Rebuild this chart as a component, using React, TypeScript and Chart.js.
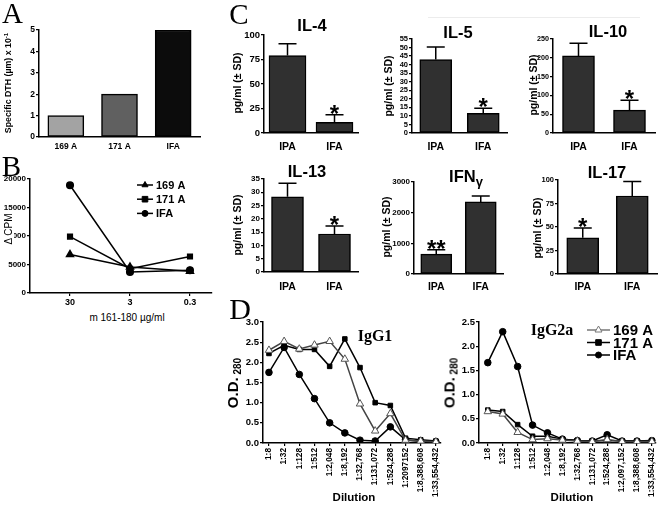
import React, { useEffect, useRef } from 'react';
import { Chart, registerables } from 'chart.js';
Chart.register(...registerables);

const SANS = '"Liberation Sans", Arial, Helvetica, sans-serif';
const SERIF = '"Liberation Serif", "Times New Roman", serif';

// ---------- Panel A
const aCategories = ['169 A', '171 A', 'IFA'];
const aValues = [1, 2, 5];
const aColors = ['#a3a3a3', '#606060', '#0c0c0c'];

// ---------- Panel B
const bDoses = ['30', '3', '0.3'];
const b169A = [6750, 4550, 3800];
const b171A = [9900, 4250, 6400];
const bIFA = [18900, 3700, 4000];
const seriesNames = ['169 A', '171 A', 'IFA'];

// ---------- Panel C
const cGroups = ['IPA', 'IFA'];
const il4Mean = [79, 11];
const il4SD = [12, 7.5];
const il4Sig = ['', '*'];
const il5Mean = [43, 11.5];
const il5SD = [7.3, 3];
const il5Sig = ['', '*'];
const il10Mean = [205, 61];
const il10SD = [34, 26];
const il10Sig = ['', '*'];
const il13Mean = [28.3, 14.3];
const il13SD = [5.1, 3.0];
const il13Sig = ['', '*'];
const ifngMean = [650, 2350];
const ifngSD = [140, 190];
const ifngSig = ['**', ''];
const il17Mean = [38.5, 83];
const il17SD = [10.5, 15.5];
const il17Sig = ['*', ''];

// ---------- Panel D
const igg1Dilutions = ['1:8', '1:32', '1:128', '1:512', '1:2,048', '1:8,192', '1:32,768', '1:131,072', '1:524,288', '1:2097152', '1:8,388,608', '1:33,554,432'];
const igg2aDilutions = ['1:8', '1:32', '1:128', '1:512', '1:2,048', '1:8,192', '1:32,768', '1:131,072', '1:524,288', '1:2,097,152', '1:8,388,608', '1:33,554,432'];
const igg1_169A = [2.3, 2.52, 2.33, 2.43, 2.52, 2.08, 0.97, 0.3, 0.73, 0.07, 0.05, 0.03];
const igg1_171A = [2.22, 2.42, 2.32, 2.32, 1.9, 2.58, 1.87, 1.0, 0.93, 0.12, 0.08, 0.05];
const igg1_IFA = [1.75, 2.37, 1.7, 1.1, 0.5, 0.25, 0.07, 0.05, 0.4, 0.08, 0.04, 0.03];
const igg2a_169A = [0.65, 0.6, 0.22, 0.07, 0.09, 0.06, 0.04, 0.03, 0.07, 0.03, 0.03, 0.03];
const igg2a_171A = [0.68, 0.65, 0.38, 0.14, 0.14, 0.08, 0.05, 0.04, 0.05, 0.04, 0.04, 0.04];
const igg2a_IFA = [1.66, 2.3, 1.58, 0.37, 0.21, 0.08, 0.05, 0.04, 0.17, 0.04, 0.04, 0.05];

// ---------- helpers
type Plot = { l: number; t: number; r: number; b: number };
type Frame = { x: number; y: number; w: number; h: number; yW: number; xH: number; padT: number; padR: number };

function frame(p: Plot, yW: number, xH: number, padT = 8, padR = 6): Frame {
  const x = p.l - yW;
  const y = p.t - padT;
  return { x, y, w: p.r + padR - x, h: p.b + xH - y, yW, xH, padT, padR };
}

function drawMarker(ctx: CanvasRenderingContext2D, style: string, x: number, y: number, r: number, fill: string, stroke: string) {
  ctx.beginPath();
  if (style === 'circle') ctx.arc(x, y, r, 0, Math.PI * 2);
  else if (style === 'rect') ctx.rect(x - r, y - r, 2 * r, 2 * r);
  else {
    let a = 0;
    ctx.moveTo(x + Math.sin(a) * r, y - Math.cos(a) * r);
    a += (2 * Math.PI) / 3;
    ctx.lineTo(x + Math.sin(a) * r, y - Math.cos(a) * r);
    a += (2 * Math.PI) / 3;
    ctx.lineTo(x + Math.sin(a) * r, y - Math.cos(a) * r);
    ctx.closePath();
  }
  ctx.fillStyle = fill;
  ctx.fill();
  ctx.strokeStyle = stroke;
  ctx.lineWidth = 1;
  ctx.stroke();
}

function yAxis(max: number, step: number, size: number, fmt: (v: number) => string) {
  return {
    type: 'linear',
    min: 0,
    max,
    ticks: { stepSize: step, autoSkip: false, font: { family: SANS, size, weight: 'bold' }, color: '#000', padding: 1, callback: (v: any) => fmt(Number(v)) },
    grid: { display: true, drawOnChartArea: false, drawTicks: true, tickLength: 3, color: '#000', lineWidth: 1.2 },
    border: { display: true, color: '#000', width: 1.5 },
  };
}

function baseOptions(f: Frame, y: any, x: any) {
  return {
    responsive: false,
    animation: false,
    devicePixelRatio: 1,
    events: [],
    layout: { padding: { left: 0, top: f.padT, right: f.padR, bottom: 0 } },
    plugins: { legend: { display: false }, tooltip: { enabled: false }, title: { display: false } },
    scales: {
      x: { ...x, afterFit: (s: any) => { s.height = f.xH; } },
      y: { ...y, afterFit: (s: any) => { s.width = f.yW; } },
    },
  };
}

function errPlugin(sds: number[], sigs: string[], cap: number, sigSize: number) {
  return {
    id: 'errbars',
    afterDatasetsDraw(chart: any) {
      const ctx = chart.ctx as CanvasRenderingContext2D;
      const meta = chart.getDatasetMeta(0);
      const ys = chart.scales.y;
      const vals = chart.data.datasets[0].data as number[];
      ctx.save();
      ctx.strokeStyle = '#000';
      ctx.lineWidth = 1.5;
      meta.data.forEach((el: any, i: number) => {
        const top = ys.getPixelForValue(vals[i] + sds[i]);
        ctx.beginPath();
        ctx.moveTo(el.x, el.y);
        ctx.lineTo(el.x, top);
        ctx.moveTo(el.x - cap / 2, top);
        ctx.lineTo(el.x + cap / 2, top);
        ctx.stroke();
        if (sigs[i]) {
          ctx.fillStyle = '#000';
          ctx.font = `bold ${sigSize}px ${SANS}`;
          ctx.textAlign = 'center';
          ctx.textBaseline = 'alphabetic';
          ctx.fillText(sigs[i], el.x, top + sigSize * 0.3);
        }
      });
      ctx.restore();
    },
  };
}

type LegItem = { label: string; style: string; line: string; fill: string; stroke: string; r: number };
function legendPlugin(items: LegItem[], ox: number, oy: number, dy: number, lineLen: number, fontSize: number) {
  return {
    id: 'linelegend',
    afterDraw(chart: any) {
      const ctx = chart.ctx as CanvasRenderingContext2D;
      ctx.save();
      items.forEach((it, i) => {
        const y = oy + i * dy;
        ctx.strokeStyle = it.line;
        ctx.lineWidth = 1.5;
        ctx.beginPath();
        ctx.moveTo(ox, y);
        ctx.lineTo(ox + lineLen, y);
        ctx.stroke();
        drawMarker(ctx, it.style, ox + lineLen / 2, y, it.r, it.fill, it.stroke);
        ctx.fillStyle = '#000';
        ctx.font = `bold ${fontSize}px ${SANS}`;
        ctx.textAlign = 'left';
        ctx.textBaseline = 'middle';
        ctx.fillText(it.label, ox + lineLen + 3, y + 1);
      });
      ctx.restore();
    },
  };
}

function catAxis(size: number, pad: number) {
  return {
    type: 'category',
    offset: true,
    grid: { display: false, drawTicks: false },
    border: { display: true, color: '#000', width: 1.5 },
    ticks: { font: { family: SANS, size, weight: 'bold' }, color: '#000', padding: pad },
  };
}

function indexAxis(labels: string[], min: number, max: number, size: number, rot: number, pad: number) {
  return {
    type: 'linear',
    min,
    max,
    afterBuildTicks: (s: any) => { s.ticks = labels.map((_, i) => ({ value: i })); },
    ticks: {
      autoSkip: false,
      minRotation: rot,
      maxRotation: rot,
      font: { family: SANS, size, weight: 'bold' },
      color: '#000',
      padding: pad,
      callback: (v: any) => labels[Math.round(Number(v))] ?? '',
    },
    grid: { display: true, drawOnChartArea: false, drawTicks: true, tickLength: 3, color: '#000', lineWidth: 1.2 },
    border: { display: true, color: '#000', width: 1.5 },
  };
}

// ---------- chart builders
function panelA() {
  const f = frame({ l: 39, t: 30, r: 200, b: 137 }, 39, 20, 8, 6);
  const config: any = {
    type: 'bar',
    data: {
      labels: aCategories,
      datasets: [{ data: aValues, backgroundColor: aColors, borderColor: '#000', borderWidth: 1.5, borderSkipped: false, barThickness: 36 }],
    },
    options: baseOptions(f, yAxis(5, 1, 8.5, (v) => String(v)), catAxis(8.5, 5)),
  };
  return { f, config };
}

function panelB() {
  const f = frame({ l: 30, t: 179, r: 212, b: 293 }, 30, 18, 8, 8);
  const mk = (vals: number[], style: string, name: string) => ({
    label: name,
    data: vals.map((v, i) => ({ x: i, y: v })),
    borderColor: '#000',
    borderWidth: 1.5,
    pointStyle: style,
    pointRadius: style === 'triangle' ? 4 : 3.3,
    pointBackgroundColor: '#000',
    pointBorderColor: '#000',
    tension: 0,
  });
  const items: LegItem[] = [
    { label: seriesNames[0], style: 'triangle', line: '#000', fill: '#000', stroke: '#000', r: 3.5 },
    { label: seriesNames[1], style: 'rect', line: '#000', fill: '#000', stroke: '#000', r: 2.8 },
    { label: seriesNames[2], style: 'circle', line: '#000', fill: '#000', stroke: '#000', r: 3 },
  ];
  const config: any = {
    type: 'line',
    data: { datasets: [mk(b169A, 'triangle', seriesNames[0]), mk(b171A, 'rect', seriesNames[1]), mk(bIFA, 'circle', seriesNames[2])] },
    options: baseOptions(f, yAxis(20000, 5000, 8, (v) => String(v)), indexAxis(bDoses, -0.667, 2.367, 9, 0, 1)),
    plugins: [legendPlugin(items, 137 - f.x, 185 - f.y, 14.2, 16, 11)],
  };
  return { f, config };
}

function cytokine(p: Plot, mean: number[], sd: number[], sig: string[], max: number, step: number, tick: number, barW: number, xPad: number) {
  const f = frame(p, 30, 24, 8, 5);
  const config: any = {
    type: 'bar',
    data: {
      labels: cGroups,
      datasets: [{ data: mean, backgroundColor: '#303030', borderColor: '#000', borderWidth: 1.5, borderSkipped: false, barThickness: barW }],
    },
    options: baseOptions(f, yAxis(max, step, tick, (v) => String(v)), catAxis(10.5, xPad)),
    plugins: [errPlugin(sd, sig, 18, 24)],
  };
  return { f, config };
}

function dilutionChart(p: Plot, labels: string[], s169: number[], s171: number[], sIFA: number[], max: number, legend: boolean) {
  const f = frame(p, 30, 58, 8, p.r > 600 ? 4 : 6);
  const px = p.r - p.l;
  const first = p.l < 300 ? 6 : 9;
  const last = p.l < 300 ? 5 : 4;
  const unit = (px - first - last) / 11;
  const min = -first / unit;
  const maxX = 11 + last / unit;
  const mk = (vals: number[], style: string, name: string, line: string, fill: string, stroke: string, r: number) => ({
    label: name,
    data: vals.map((v, i) => ({ x: i, y: v })),
    borderColor: line,
    borderWidth: 1.5,
    pointStyle: style,
    pointRadius: r,
    pointBackgroundColor: fill,
    pointBorderColor: stroke,
    pointBorderWidth: 1,
    tension: 0,
  });
  const items: LegItem[] = [
    { label: seriesNames[0], style: 'triangle', line: '#777', fill: '#fff', stroke: '#777', r: 4 },
    { label: seriesNames[1], style: 'rect', line: '#000', fill: '#000', stroke: '#000', r: 2.8 },
    { label: seriesNames[2], style: 'circle', line: '#000', fill: '#000', stroke: '#000', r: 3 },
  ];
  const config: any = {
    type: 'line',
    data: {
      datasets: [
        mk(s169, 'triangle', seriesNames[0], '#444', '#fff', '#555', 4.3),
        mk(s171, 'rect', seriesNames[1], '#000', '#000', '#000', 3.2),
        mk(sIFA, 'circle', seriesNames[2], '#000', '#000', '#000', 3.3),
      ],
    },
    options: baseOptions(f, yAxis(max, 0.5, 9.5, (v) => v.toFixed(1)), indexAxis(labels, min, maxX, 8.3, 90, 2)),
    plugins: legend ? [legendPlugin(items, 587 - f.x, 330 - f.y, 12.5, 23, 15)] : [],
  };
  return { f, config };
}

function ChartCanvas({ build }: { build: () => { f: Frame; config: any } }) {
  const ref = useRef<HTMLCanvasElement>(null);
  const { f } = build();
  useEffect(() => {
    const c = new Chart(ref.current as HTMLCanvasElement, build().config);
    return () => c.destroy();
  }, []);
  return (
    <canvas
      ref={ref}
      width={f.w}
      height={f.h}
      style={{ position: 'absolute', left: f.x, top: f.y, width: f.w, height: f.h }}
    />
  );
}

function Txt({ x, y, size, bold = false, family = SANS, rot = false, bg, children }: any) {
  return (
    <div
      style={{
        position: 'absolute',
        left: x,
        top: y,
        transform: `translate(-50%, -50%)${rot ? ' rotate(-90deg)' : ''}`,
        fontSize: size,
        fontWeight: bold ? 'bold' : 'normal',
        fontFamily: family,
        whiteSpace: 'nowrap',
        lineHeight: 1,
        color: '#000',
        background: bg,
        zIndex: 2,
      }}
    >
      {children}
    </div>
  );
}

const pgTitle = 'pg/ml (± SD)';

export default function App() {
  return (
    <div style={{ position: 'absolute', left: 0, top: 0, width: 664, height: 508, background: '#fff', overflow: 'hidden' }}>
      {/* panel letters */}
      <Txt x={12.5} y={12.5} size={29} family={SERIF}>A</Txt>
      <Txt x={11.5} y={166} size={29} family={SERIF}>B</Txt>
      <Txt x={239} y={14} size={29} family={SERIF}>C</Txt>
      <Txt x={240} y={309} size={30} family={SERIF}>D</Txt>

      {/* faint rule above IL-5 / IL-10 */}
      <div style={{ position: 'absolute', left: 428, top: 17, width: 212, height: 1, background: '#ececec' }} />

      {/* A */}
      <ChartCanvas build={panelA} />
      <Txt x={8} y={83} size={8.8} bold rot>
        Specific DTH (µm) x 10<sup style={{ fontSize: 6, verticalAlign: 'top', position: 'relative', top: -1 }}>-1</sup>
      </Txt>

      {/* B */}
      <ChartCanvas build={panelB} />
      <Txt x={9} y={229} size={10} rot bg="#fff">Δ CPM</Txt>
      <Txt x={127} y={318} size={10}>m 161-180 µg/ml</Txt>

      {/* C */}
      <ChartCanvas build={() => cytokine({ l: 264, t: 35, r: 358, b: 133 }, il4Mean, il4SD, il4Sig, 100, 25, 9.5, 37, 8)} />
      <ChartCanvas build={() => cytokine({ l: 412, t: 39, r: 507, b: 133 }, il5Mean, il5SD, il5Sig, 55, 5, 7.5, 32, 8)} />
      <ChartCanvas build={() => cytokine({ l: 553, t: 39, r: 655, b: 133 }, il10Mean, il10SD, il10Sig, 250, 50, 7.2, 32, 8)} />
      <ChartCanvas build={() => cytokine({ l: 264, t: 179, r: 358, b: 272 }, il13Mean, il13SD, il13Sig, 35, 5, 8, 32, 9)} />
      <ChartCanvas build={() => cytokine({ l: 414, t: 182, r: 503, b: 274 }, ifngMean, ifngSD, ifngSig, 3000, 1000, 8, 31, 7)} />
      <ChartCanvas build={() => cytokine({ l: 558, t: 180, r: 657, b: 274 }, il17Mean, il17SD, il17Sig, 100, 25, 7.5, 32, 7)} />

      <Txt x={312} y={24.5} size={16.5} bold>IL-4</Txt>
      <Txt x={458} y={32} size={16.5} bold>IL-5</Txt>
      <Txt x={608} y={31} size={16.5} bold>IL-10</Txt>
      <Txt x={307} y={171} size={16.5} bold>IL-13</Txt>
      <Txt x={466} y={176} size={16.5} bold>
        IFN<span style={{ fontSize: 13, position: 'relative', top: 4 }}>γ</span>
      </Txt>
      <Txt x={607} y={172} size={16.5} bold>IL-17</Txt>

      <Txt x={237} y={83} size={10.5} bold rot>{pgTitle}</Txt>
      <Txt x={387.5} y={86} size={10.5} bold rot>{pgTitle}</Txt>
      <Txt x={533} y={85} size={10.5} bold rot>{pgTitle}</Txt>
      <Txt x={237} y={225} size={10.5} bold rot>{pgTitle}</Txt>
      <Txt x={386} y={227} size={10.5} bold rot>{pgTitle}</Txt>
      <Txt x={537} y={228} size={10.5} bold rot>{pgTitle}</Txt>

      {/* D */}
      <ChartCanvas build={() => dilutionChart({ l: 263, t: 322, r: 442, b: 443 }, igg1Dilutions, igg1_169A, igg1_171A, igg1_IFA, 3, false)} />
      <ChartCanvas build={() => dilutionChart({ l: 479, t: 322, r: 660, b: 443 }, igg2aDilutions, igg2a_169A, igg2a_171A, igg2a_IFA, 2.5, true)} />

      <Txt x={375} y={336} size={16} bold family={SERIF}>IgG1</Txt>
      <Txt x={552} y={330} size={16} bold family={SERIF}>IgG2a</Txt>
      <Txt x={232} y={383} size={15} bold rot>
        O.D.<span style={{ fontSize: 10, position: 'relative', top: 3 }}> 280</span>
      </Txt>
      <Txt x={449} y={383} size={15} bold rot>
        O.D.<span style={{ fontSize: 10, position: 'relative', top: 3 }}> 280</span>
      </Txt>
      <Txt x={354} y={498} size={11.5} bold>Dilution</Txt>
      <Txt x={572} y={498} size={11.5} bold>Dilution</Txt>
    </div>
  );
}
